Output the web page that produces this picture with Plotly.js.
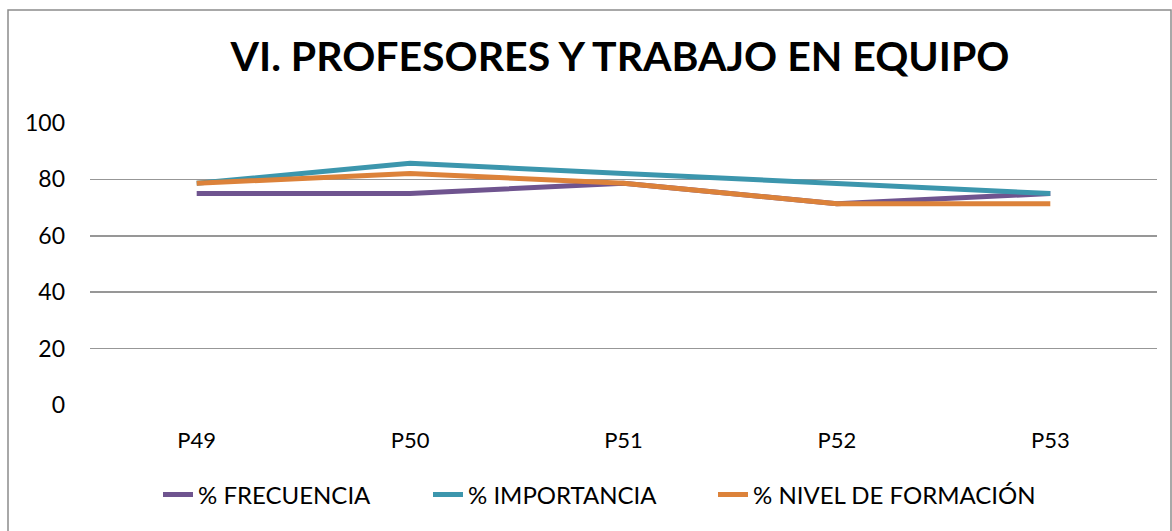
<!DOCTYPE html>
<html>
<head>
<meta charset="utf-8">
<script src="https://cdn.plot.ly/plotly-3.0.1.min.js"></script>
<style>html,body{margin:0;padding:0;background:#fff;}#chart{width:1172px;height:531px;}</style>
</head>
<body>
<div id="chart"></div>
<script>
const categories = ["P49", "P50", "P51", "P52", "P53"];
const frecuencia = [75, 75, 78.6, 71.4, 75];
const importancia = [78.6, 85.7, 82.1, 78.6, 75];
const nivelFormacion = [78.6, 82.1, 78.6, 71.4, 71.4];
const seriesNames = ["% FRECUENCIA", "% IMPORTANCIA", "% NIVEL DE FORMACIÓN"];
const yTicks = [0, 20, 40, 60, 80, 100];

const colors = ["#6f548f", "#3c96ad", "#dc823a"];
const seriesData = [frecuencia, importancia, nivelFormacion];
const legendIds = ["legend", "legend2", "legend3"];
const font = "Lato, 'Open Sans', sans-serif";

const traces = seriesData.map((vals, i) => ({
  type: "scatter",
  mode: "lines",
  x: categories,
  y: vals,
  name: seriesNames[i],
  legend: legendIds[i],
  line: {color: colors[i], width: 5}
}));

const L = 90, R = 15, T = 123, B = 126, W = 1172, H = 531;
const pw = W - L - R, ph = H - T - B;
const px = v => (v - L) / pw;
const py = v => (H - B - v) / ph;

const legendX = [158, 428, 713];
const mkLegend = xpix => ({
  orientation: "h",
  x: px(xpix), xanchor: "left",
  y: py(495), yanchor: "middle",
  font: {size: 24},
  bgcolor: "rgba(0,0,0,0)"
});

const layout = {
  width: W, height: H,
  margin: {l: L, r: R, t: T, b: B},
  paper_bgcolor: "#ffffff",
  plot_bgcolor: "#ffffff",
  font: {family: font, size: 22, color: "#000000"},
  title: {
    text: "<b>VI. PROFESORES Y TRABAJO EN EQUIPO</b>",
    font: {family: font, size: 41, color: "#000000"},
    x: 620 / W, xanchor: "center",
    y: 1 - 57 / H, yanchor: "middle"
  },
  xaxis: {
    type: "category",
    range: [-0.5, 4.5],
    showgrid: false, zeroline: false, showline: false,
    ticks: "", tickfont: {size: 22},
    ticklabelstandoff: 20
  },
  yaxis: {
    range: [0, 100],
    tickvals: yTicks,
    showgrid: true, gridcolor: "#979797", gridwidth: 1.5,
    zeroline: false, showline: false, ticks: "",
    tickfont: {size: 23},
    ticklabelstandoff: 24
  },
  legend: mkLegend(legendX[0]),
  legend2: mkLegend(legendX[1]),
  legend3: mkLegend(legendX[2]),
  shapes: [{
    type: "rect", xref: "paper", yref: "paper",
    x0: px(8), x1: px(1171), y0: py(535), y1: py(10),
    line: {color: "#8c8c8c", width: 1.5}, fillcolor: "rgba(0,0,0,0)",
    layer: "below"
  }],
  showlegend: true
};

Plotly.newPlot("chart", traces, layout, {displayModeBar: false, staticPlot: true});
</script>
</body>
</html>
